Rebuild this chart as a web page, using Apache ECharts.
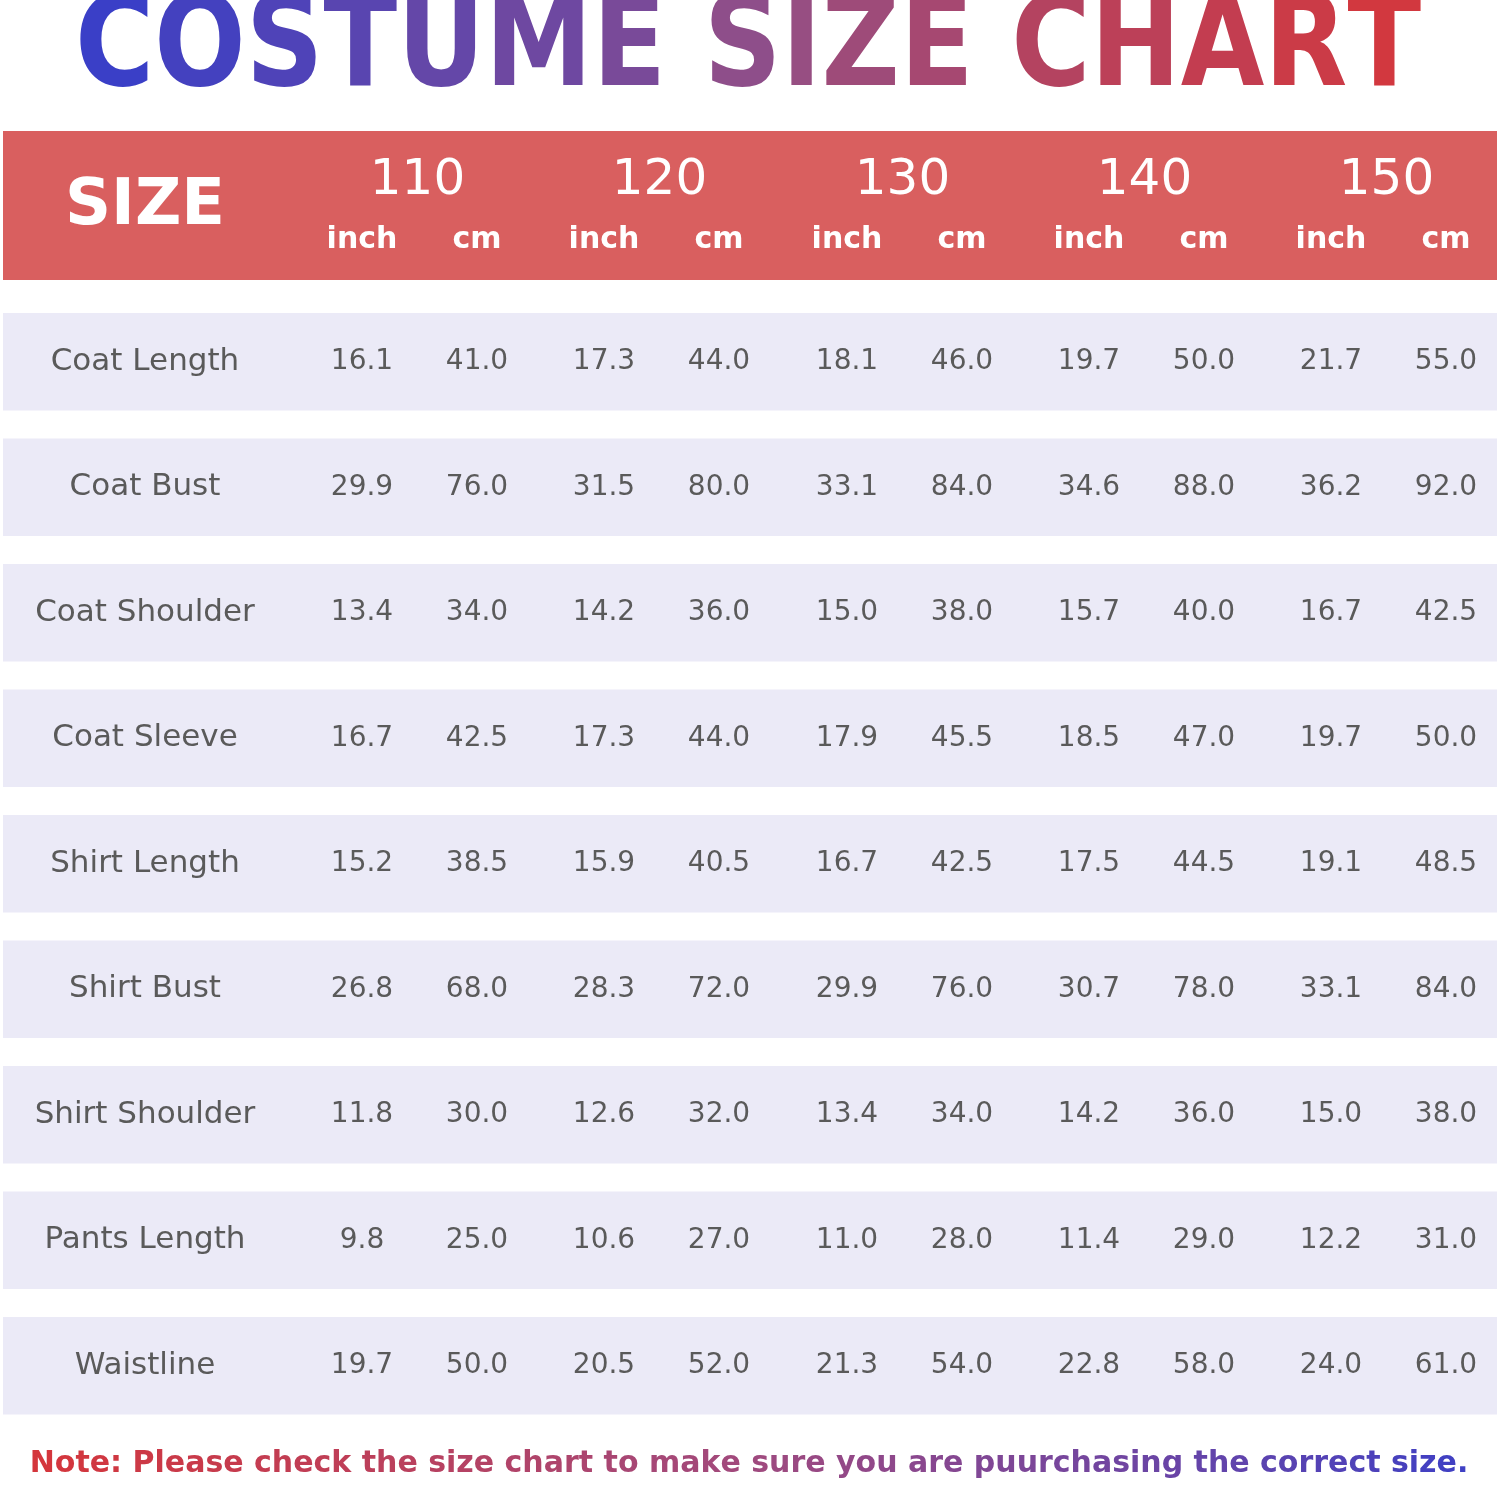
<!DOCTYPE html>
<html><head><meta charset="utf-8">
<script src="https://cdn.jsdelivr.net/npm/echarts@6/dist/echarts.min.js"></script>
<style>html,body{margin:0;background:#fff}#c{width:1500px;height:1486px}</style>
</head><body><div id="c"></div>
<script>
const chart = echarts.init(document.getElementById('c'));

// sizes and measurements
const sizes = ['110', '120', '130', '140', '150'];
const units = ['inch', 'cm'];
const rows = ['Coat Length', 'Coat Bust', 'Coat Shoulder', 'Coat Sleeve', 'Shirt Length',
  'Shirt Bust', 'Shirt Shoulder', 'Pants Length', 'Waistline'];
// each row: inch/cm pairs for 110..150
const values = [
  ['16.1', '41.0', '17.3', '44.0', '18.1', '46.0', '19.7', '50.0', '21.7', '55.0'],
  ['29.9', '76.0', '31.5', '80.0', '33.1', '84.0', '34.6', '88.0', '36.2', '92.0'],
  ['13.4', '34.0', '14.2', '36.0', '15.0', '38.0', '15.7', '40.0', '16.7', '42.5'],
  ['16.7', '42.5', '17.3', '44.0', '17.9', '45.5', '18.5', '47.0', '19.7', '50.0'],
  ['15.2', '38.5', '15.9', '40.5', '16.7', '42.5', '17.5', '44.5', '19.1', '48.5'],
  ['26.8', '68.0', '28.3', '72.0', '29.9', '76.0', '30.7', '78.0', '33.1', '84.0'],
  ['11.8', '30.0', '12.6', '32.0', '13.4', '34.0', '14.2', '36.0', '15.0', '38.0'],
  ['9.8', '25.0', '10.6', '27.0', '11.0', '28.0', '11.4', '29.0', '12.2', '31.0'],
  ['19.7', '50.0', '20.5', '52.0', '21.3', '54.0', '22.8', '58.0', '24.0', '61.0']
];
const columns = ['label', '110 inch', '110 cm', '120 inch', '120 cm', '130 inch', '130 cm',
  '140 inch', '140 cm', '150 inch', '150 cm'];
const titleText = 'COSTUME SIZE CHART';
const noteText = 'Note: Please check the size chart to make sure you are puurchasing the correct size.';

// column centres in pixels (layout)
const colX = [145, 362, 477, 604, 719, 847, 962, 1089, 1204, 1331, 1446];

const cells = [];
rows.forEach((r, i) => {
  cells.push([0, i, r]);
  values[i].forEach((v, j) => cells.push([j + 1, i, v]));
});

// per-letter colour gradient via rich text
function mix(stops, t) {
  for (let k = 0; k < stops.length - 1; k++) {
    const [t0, c0] = stops[k], [t1, c1] = stops[k + 1];
    if (t <= t1) {
      const f = (t - t0) / (t1 - t0);
      const c = c0.map((v, n) => Math.round(v + (c1[n] - v) * f));
      return 'rgb(' + c.join(',') + ')';
    }
  }
}
function gradientText(str, stops) {
  const rich = {};
  let text = '';
  const n = str.length;
  for (let i = 0; i < n; i++) {
    const ch = str[i];
    rich['c' + i] = { fill: mix(stops, i / (n - 1)) };
    text += ch === ' ' ? ' ' : '{c' + i + '|' + ch + '}';
  }
  return { text, rich };
}
const titleRich = gradientText(titleText, [[0, [58, 63, 199]], [0.5, [147, 79, 134]], [1, [210, 56, 63]]]);
const noteRich = gradientText(noteText, [[0, [212, 54, 60]], [0.5, [160, 74, 126]], [1, [63, 64, 196]]]);

const headerGraphics = [
  { type: 'rect', shape: { x: 3, y: 131, width: 1494, height: 149 }, style: { fill: '#d95f5f' } },
  { type: 'text', x: 145, y: 207, style: { text: 'SIZE', fill: '#fff', fontFamily: 'DejaVu Sans', fontWeight: 'bold', fontSize: 64, align: 'center', verticalAlign: 'middle' } }
];
sizes.forEach((s, k) => {
  const a = colX[1 + 2 * k], b = colX[2 + 2 * k];
  headerGraphics.push({ type: 'text', x: (a + b) / 2 - 2, y: 181, style: { text: s, fill: '#fff', fontFamily: 'DejaVu Sans', fontSize: 50, align: 'center', verticalAlign: 'middle' } });
  units.forEach((u, m) => headerGraphics.push({ type: 'text', x: m ? b : a, y: 240, style: { text: u, fill: '#fff', fontFamily: 'DejaVu Sans', fontWeight: 'bold', fontSize: 30, align: 'center', verticalAlign: 'middle' } }));
});

option = {
  backgroundColor: '#fff',
  animation: false,
  grid: { left: 0, right: 0, top: 299, bottom: 57.5 },
  xAxis: { type: 'category', data: columns, show: false },
  yAxis: { type: 'category', data: rows, inverse: true, show: false },
  graphic: [
    {
      type: 'text', x: 748, y: 52, scaleY: 1.05,
      style: {
        text: titleRich.text, rich: titleRich.rich,
        fontFamily: 'DejaVu Sans Condensed', fontWeight: 'bold', fontSize: 120,
        align: 'center', verticalAlign: 'middle'
      }
    },
    ...headerGraphics,
    {
      type: 'text', x: 749, y: 1464,
      style: {
        text: noteRich.text, rich: noteRich.rich,
        fontFamily: 'DejaVu Sans', fontWeight: 'bold', fontSize: 30,
        align: 'center', verticalAlign: 'middle'
      }
    }
  ],
  series: [
    {
      type: 'custom',
      data: rows.map((r, i) => [0, i]),
      renderItem: function (params, api) {
        const y = api.coord([0, api.value(1)])[1];
        const h = api.size([0, 1])[1] - 28;
        return { type: 'rect', shape: { x: 3, y: y - h / 2, width: 1494, height: h }, style: { fill: '#ebeaf7' } };
      }
    },
    {
      type: 'custom',
      data: cells,
      renderItem: function (params, api) {
        const c = api.value(0);
        const y = api.coord([0, api.value(1)])[1];
        return {
          type: 'text', x: colX[c], y: y,
          style: {
            text: cells[params.dataIndex][2], fill: '#5a5a5a',
            fontFamily: 'DejaVu Sans', fontSize: c === 0 ? 31 : 28,
            align: 'center', verticalAlign: 'middle'
          }
        };
      }
    }
  ]
};

chart.setOption(option);
</script></body></html>
